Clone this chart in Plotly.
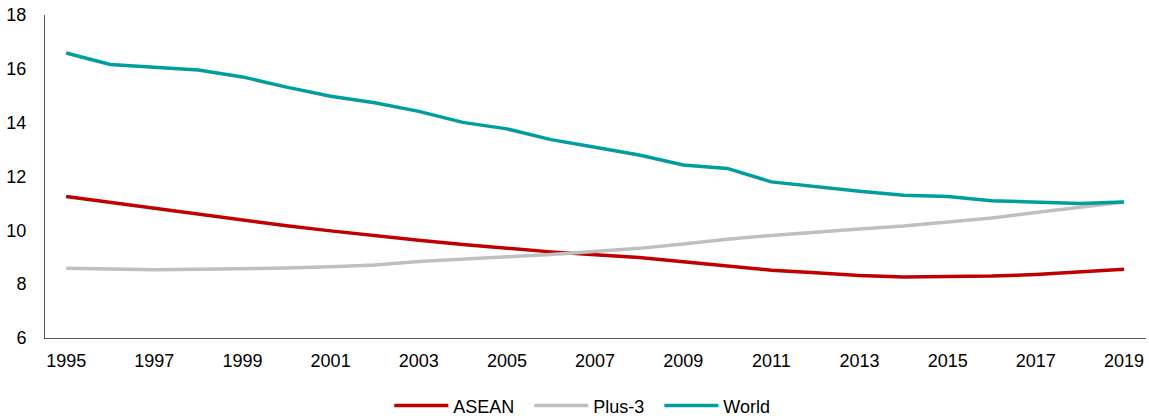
import plotly.graph_objects as go

years = list(range(1995, 2020))

asean = [11.26, 11.04, 10.81, 10.58, 10.37, 10.17, 9.98, 9.79, 9.63, 9.47,
         9.33, 9.20, 9.09, 8.99, 8.83, 8.66, 8.52, 8.42, 8.32, 8.27,
         8.27, 8.30, 8.36, 8.45, 8.55]

plus3 = [8.59, 8.56, 8.54, 8.55, 8.57, 8.60, 8.65, 8.71, 8.84, 8.94,
         9.02, 9.10, 9.20, 9.33, 9.49, 9.67, 9.81, 9.94, 10.05, 10.16,
         10.30, 10.46, 10.66, 10.87, 11.05]

world = [16.59, 16.16, 16.06, 15.96, 15.70, 15.32, 14.98, 14.74, 14.42, 14.01,
         13.77, 13.37, 13.09, 12.80, 12.43, 12.30, 11.80, 11.61, 11.45, 11.30,
         11.26, 11.10, 11.04, 11.00, 11.05]

tick_years = list(range(1995, 2020, 2))
y_ticks = [6, 8, 10, 12, 14, 16, 18]

series = [
    ("ASEAN", asean, "#C00000"),
    ("Plus-3", plus3, "#BFBFBF"),
    ("World", world, "#009E9E"),
]

fig = go.Figure()
for name, vals, color in series:
    fig.add_trace(go.Scatter(
        x=years, y=vals, name=name + "  ", mode="lines",
        line=dict(color=color, width=3.5),
    ))

font = dict(family="Liberation Sans, Arial, sans-serif", size=18, color="#000000")

fig.update_layout(
    width=1149, height=416,
    margin=dict(l=45, r=3, t=15, b=78, autoexpand=False),
    paper_bgcolor="white", plot_bgcolor="white",
    font=font,
    showlegend=True,
    legend=dict(orientation="h", x=0.4925, xanchor="center", y=-0.21, yanchor="middle",
                font=font, tracegroupgap=0, itemwidth=54),
    xaxis=dict(range=[1994.52, 2019.5], tickmode="array", tickvals=tick_years,
               ticktext=[str(t) for t in tick_years],
               showgrid=False, zeroline=False, showline=True,
               linecolor="#595959", linewidth=1,
               ticks="outside", ticklen=6, tickcolor="rgba(0,0,0,0)"),
    yaxis=dict(range=[6, 18], tickmode="array", tickvals=y_ticks,
               showgrid=False, zeroline=False, showline=True,
               linecolor="#595959", linewidth=1,
               ticks="outside", ticklen=14, tickcolor="rgba(0,0,0,0)"),
)

fig.write_html("out.html")
